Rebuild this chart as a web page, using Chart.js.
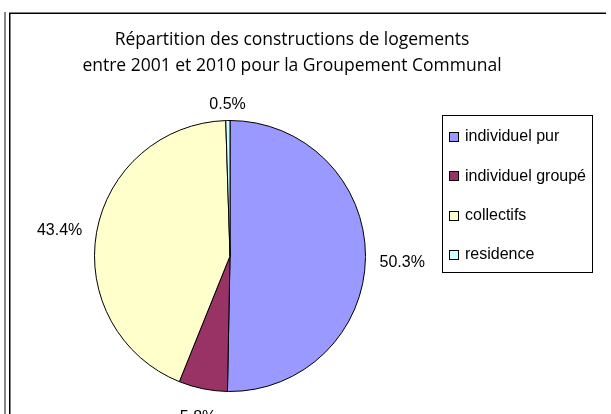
<!DOCTYPE html>
<html>
<head>
<meta charset="utf-8">
<script src="https://cdn.jsdelivr.net/npm/chart.js@4/dist/chart.umd.min.js"></script>
<style>
  html, body { margin: 0; padding: 0; background: #fff; }
  #wrap { width: 611px; height: 414px; position: relative; }
</style>
</head>
<body>
<div id="wrap"><canvas id="pieChart" width="611" height="414"></canvas></div>
<script>
const titleLines = ['Répartition des constructions de logements', 'entre 2001 et 2010 pour la Groupement Communal'];
const categories = ['individuel pur', 'individuel groupé', 'collectifs', 'residence'];
const shares = [50.3, 5.8, 43.4, 0.5];
const sliceColors = ['#9999ff', '#993366', '#ffffcc', '#ccffff'];

// frame, title, legend and outside labels, excel style
const excelLook = {
    id: 'excelLook',
    beforeDraw: function (chart) {
        const ctx = chart.ctx;
        ctx.save();
        ctx.fillStyle = '#fff';
        ctx.fillRect(0, 0, chart.width, chart.height);
        ctx.strokeStyle = '#888';
        ctx.lineWidth = 2;
        ctx.beginPath();
        ctx.moveTo(5, 12);
        ctx.lineTo(5, chart.height);
        ctx.stroke();
        ctx.strokeStyle = '#000';
        ctx.lineWidth = 1.5;
        ctx.beginPath();
        ctx.moveTo(9.75, chart.height);
        ctx.lineTo(9.75, 13.25);
        ctx.lineTo(606, 13.25);
        ctx.stroke();

        ctx.fillStyle = '#000';
        ctx.font = '17.5px "Open Sans"';
        ctx.textAlign = 'center';
        ctx.textBaseline = 'alphabetic';
        titleLines.forEach(function (line, i) {
            ctx.fillText(line, 292, 45 + i * 26);
        });
        ctx.restore();
    },
    afterDatasetsDraw: function (chart) {
        const ctx = chart.ctx;
        const arcs = chart.getDatasetMeta(0).data;
        ctx.save();
        ctx.font = '16px "Liberation Sans"';
        ctx.fillStyle = '#000';
        ctx.textAlign = 'center';
        ctx.textBaseline = 'middle';
        arcs.forEach(function (arc, i) {
            const p = arc.getProps(['x', 'y', 'startAngle', 'endAngle', 'outerRadius'], true);
            const mid = (p.startAngle + p.endAngle) / 2;
            const text = shares[i].toFixed(1) + '%';
            const w = ctx.measureText(text).width;
            const c = Math.cos(mid), s = Math.sin(mid);
            const d = p.outerRadius + 14 + Math.abs(c) * w / 2 + Math.abs(s) * 7;
            ctx.fillText(text, p.x + c * d, p.y + s * d + 5);
        });

        // legend
        const box = { left: 442, top: 115, width: 150, height: 157 };
        ctx.strokeStyle = '#000';
        ctx.lineWidth = 1;
        ctx.strokeRect(box.left + 0.5, box.top + 0.5, box.width, box.height);
        ctx.textAlign = 'left';
        ctx.font = '16px "Liberation Sans"';
        categories.forEach(function (name, i) {
            const cy = 137 + i * 39.3;
            ctx.fillStyle = sliceColors[i];
            ctx.fillRect(449.5, Math.round(cy) - 4.5, 9, 9);
            ctx.strokeRect(449.5, Math.round(cy) - 4.5, 9, 9);
            ctx.fillStyle = '#000';
            ctx.fillText(name, 465, cy);
        });
        ctx.restore();
    }
};

new Chart(document.getElementById('pieChart'), {
    type: 'pie',
    data: {
        labels: categories,
        datasets: [{
            data: shares,
            backgroundColor: sliceColors,
            borderColor: '#000',
            borderWidth: 1
        }]
    },
    options: {
        responsive: false,
        animation: false,
        layout: { padding: { left: 94, right: 245, top: 120, bottom: 22 } },
        plugins: {
            legend: { display: false },
            tooltip: { enabled: false },
            title: { display: false }
        }
    },
    plugins: [excelLook]
});
</script>
</body>
</html>
